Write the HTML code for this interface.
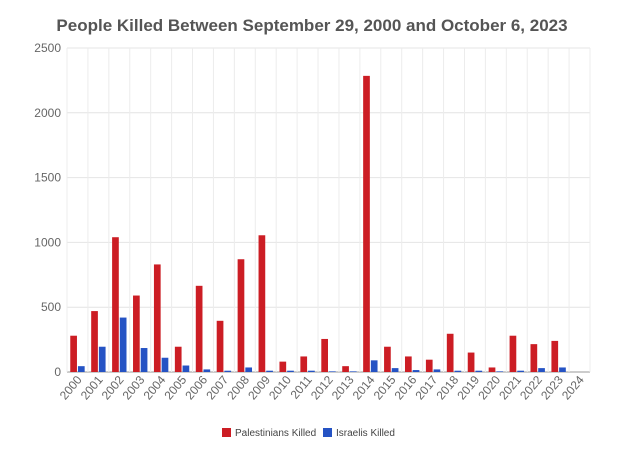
<!DOCTYPE html>
<html><head><meta charset="utf-8"><style>
body{margin:0;background:#fff;font-family:"Liberation Sans",Arial,sans-serif;}
svg text{font-family:"Liberation Sans",Arial,sans-serif;}
</style></head><body>
<svg id="chart" width="620" height="445">
<text x="312" y="31" text-anchor="middle" font-size="17" font-weight="bold" fill="#555">People Killed Between September 29, 2000 and October 6, 2023</text>
<g id="grid"></g><g id="bars"></g><g id="xlabels"></g>
<g>
<rect x="222" y="428" width="9" height="9" fill="#cc1d24"/>
<text x="235" y="436" font-size="10" fill="#444">Palestinians Killed</text>
<rect x="323" y="428" width="9" height="9" fill="#2553c4"/>
<text x="336" y="436" font-size="10" fill="#444">Israelis Killed</text>
</g>
</svg>
<script>
const years=["2000","2001","2002","2003","2004","2005","2006","2007","2008","2009","2010","2011","2012","2013","2014","2015","2016","2017","2018","2019","2020","2021","2022","2023","2024"];
const palestinians=[280,470,1040,590,830,195,665,395,870,1055,80,120,255,45,2285,195,120,95,295,150,35,280,215,240,0];
const israelis=[45,195,420,185,110,50,20,10,35,10,10,10,5,5,90,30,15,20,10,10,5,10,30,35,0];
const yTicks=[0,500,1000,1500,2000,2500];
const NS="http://www.w3.org/2000/svg";
const L=67,R=590,T=48,B=372,YMAX=2500;
const bw=(R-L)/years.length;
const y=v=>B-(v/YMAX)*(B-T);
const x=i=>L+i*bw;
const grid=document.getElementById('grid'),bars=document.getElementById('bars'),xl=document.getElementById('xlabels');
function mk(tag,at,parent){const e=document.createElementNS(NS,tag);for(const k in at)e.setAttribute(k,at[k]);parent.appendChild(e);return e;}
yTicks.forEach(t=>{
 const ln=mk('line',{x1:L,x2:R,y1:y(t),y2:y(t),stroke:t===0?'#999':'#e4e4e4','stroke-width':1},grid);
 
 
 const tx=mk('text',{x:L-6,y:y(t)+4,'text-anchor':'end','font-size':12,fill:'#666'},grid);
 tx.textContent=t;
 
 
});
for(let i=0;i<=years.length;i++){
 const ln=mk('line',{x1:x(i),x2:x(i),y1:T,y2:B,stroke:'#ececec','stroke-width':1},grid);
 
 
}
years.forEach((yr,i)=>{
 const w=bw*0.32, cx=x(i)+bw/2;
 const r1=mk('rect',{x:cx-w-0.5,y:y(palestinians[i]),width:w,height:B-y(palestinians[i]),fill:'#cc1d24'},bars);
 
 
 const r2=mk('rect',{x:cx+0.5,y:y(israelis[i]),width:w,height:B-y(israelis[i]),fill:'#2553c4'},bars);
 
 
 const tx=mk('text',{x:cx+5,y:B+8,'text-anchor':'end','font-size':12,fill:'#666',transform:`rotate(-50 ${cx+5} ${B+8})`},xl);
 tx.textContent=yr;
 
 
});
</script>
</body></html>
